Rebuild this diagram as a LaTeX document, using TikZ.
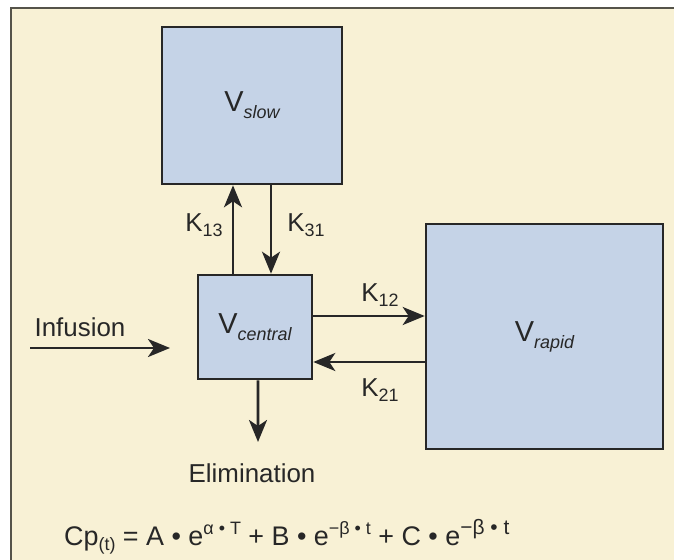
\documentclass[tikz,border=0pt]{standalone}
\usepackage{fontspec}
\setmainfont{Liberation Sans}
\usetikzlibrary{arrows.meta}
\definecolor{paper}{HTML}{F8F1D5}
\definecolor{boxfill}{HTML}{C5D3E7}
\definecolor{ink}{HTML}{272727}
\definecolor{frameline}{HTML}{55534A}
\newcommand{\volsub}[1]{\raisebox{-0.45ex}{\fontsize{18}{18}\selectfont\itshape #1}}
\newcommand{\ksub}[1]{\raisebox{-0.4ex}{\fontsize{18}{18}\selectfont #1}}
\newcommand{\expo}[2][18]{\raisebox{0.75ex}{\fontsize{#1}{#1}\selectfont #2}}
\begin{document}
\begin{tikzpicture}[
  x=1bp,
  y=-1bp,
  every node/.style={font=\fontsize{26}{30}\selectfont, text=ink},
  box/.style={draw=ink, line width=2.6bp, fill=boxfill, inner sep=0pt},
  flow/.style={draw=ink, line width=2.8bp, -{Stealth[length=22bp, width=18bp, inset=6bp]}}
]
  % Page, with a frame on top and left only.
  \useasboundingbox (0,0) rectangle (674,560);
  \fill[white] (0,0) rectangle (674,560);
  \fill[paper] (11,8) rectangle (674,560);
  \draw[frameline, line width=2bp] (11,560) -- (11,8) -- (674,8);

  % Compartments.
  \node[box, minimum width=180bp, minimum height=157bp] (slow) at (252,105.5)
    {\fontsize{29}{30}\selectfont V\volsub{slow}};
  \node[box, minimum width=114bp, minimum height=104bp] (central) at (255,327)
    {\fontsize{29}{30}\selectfont V\volsub{central}};
  \node[box, minimum width=237bp, minimum height=225bp] (rapid) at (544.5,336.5)
    {\fontsize{29}{30}\selectfont V\volsub{rapid}};

  % Free ends.
  \coordinate (infstart) at (30,348);
  \coordinate (infend) at (170,348);
  \coordinate (elimtip) at (258,442);

  % Transfers.
  \draw[flow] ([xshift=-22bp]central.north) -- ([xshift=-22bp]central.north |- slow.south);
  \draw[flow] ([xshift=16bp]central.north |- slow.south) -- ([xshift=16bp]central.north);
  \draw[flow] ([yshift=11bp]central.east) -- ([yshift=11bp]central.east -| rapid.west);
  \draw[flow] ([yshift=-35bp]central.east -| rapid.west) -- ([yshift=-35bp]central.east);
  \draw[flow] ([xshift=3bp]central.south) -- (elimtip);
  \draw[flow] (infstart) -- (infend);

  % Labels.
  \node (k13) at (204,225) {K\ksub{13}};
  \node (k31) at (306,225) {K\ksub{31}};
  \node (k12) at (380,295) {K\ksub{12}};
  \node (k21) at (380,390) {K\ksub{21}};
  \node (infusion) at (80,327) {Infusion};
  \node (elimination) at (252,473) {Elimination};

  % Equation.
  \node[anchor=base west, inner sep=0pt, font=\fontsize{27}{30}\selectfont] (equation) at (64,545)
    {Cp\ksub{(t)} = A • e\expo{α • T} + B • e\expo{−β • t} + C • e\expo[21]{−β • t}};
\end{tikzpicture}
\end{document}
